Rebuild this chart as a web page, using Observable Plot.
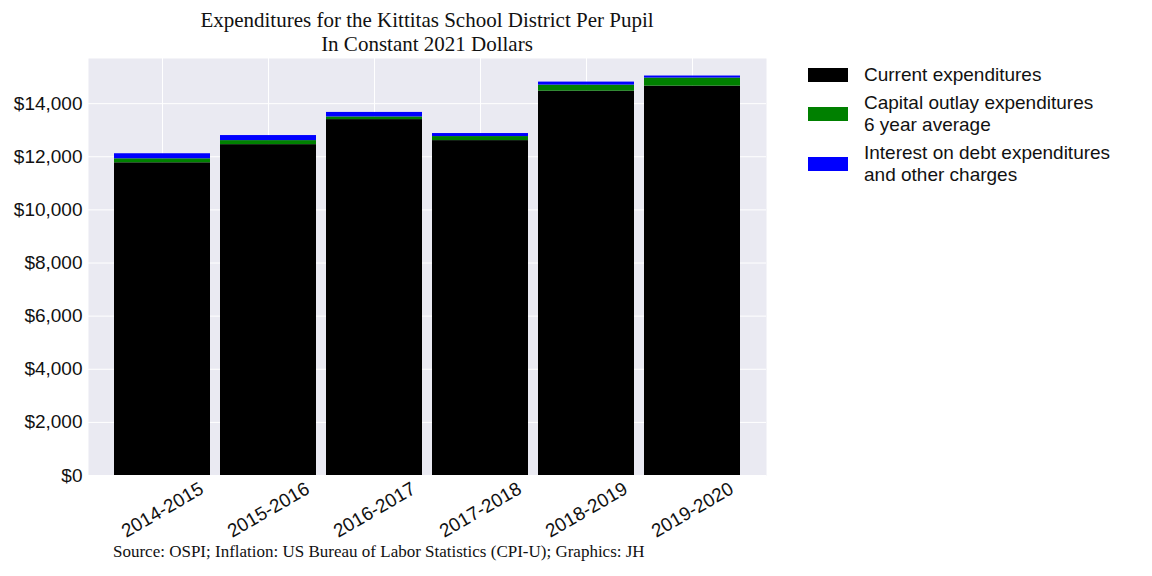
<!DOCTYPE html>
<html><head><meta charset="utf-8">
<script src="https://cdn.jsdelivr.net/npm/d3@7"></script>
<script src="https://cdn.jsdelivr.net/npm/@observablehq/plot@0.6"></script>
<style>
body{margin:0;background:#fff;}
#wrap{position:relative;width:1152px;height:576px;}
#title{position:absolute;left:88px;width:678px;top:8px;text-align:center;font:21px "Liberation Serif",serif;line-height:24px;color:#111;}
#caption{position:absolute;left:88px;width:740px;top:542px;font:17px "Liberation Serif",serif;color:#111;padding-left:25px;}
#legend{position:absolute;left:808px;top:64px;font:19px "Liberation Sans",Arial,sans-serif;color:#111;line-height:22px;}
.item{display:flex;align-items:center;margin-bottom:6px;}
.sw{width:40px;height:14px;margin-right:16px;flex:none;}
#chart{position:absolute;left:0;top:0;}
</style></head>
<body><div id="wrap"><div id="chart"></div>
<div id="title">Expenditures for the Kittitas School District Per Pupil<br>In Constant 2021 Dollars</div>
<div id="legend"></div>
<div id="caption">Source: OSPI; Inflation: US Bureau of Labor Statistics (CPI-U); Graphics: JH</div>
</div>
<script>
let years = ["2014-2015","2015-2016","2016-2017","2017-2018","2018-2019","2019-2020"]
let current = [11774, 12457, 13400, 12609, 14470, 14660]
let capital = [150, 152, 100, 152, 228, 304]
let interest = [190, 190, 170, 114, 114, 76]
let seriesNames = ["Current expenditures", "Capital outlay expenditures<br>6 year average", "Interest on debt expenditures<br>and other charges"]
let seriesColors = ["#000000", "#008000", "#0000ff"]
let yTicks = [0, 2000, 4000, 6000, 8000, 10000, 12000, 14000]

let rows = []
years.forEach((y, i) => {
    rows.push({year: y, s: 0, v: current[i]})
    rows.push({year: y, s: 1, v: capital[i]})
    rows.push({year: y, s: 2, v: interest[i]})
})

let chart = Plot.plot({
    width: 780,
    height: 545,
    marginTop: 58,
    marginLeft: 88,
    marginRight: 14,
    marginBottom: 70,
    style: {fontSize: "19px", fontFamily: "'Liberation Sans', Arial, sans-serif", color: "#111", background: "transparent"},
    x: {domain: years, paddingInner: 0.09, paddingOuter: 0.235, label: null},
    y: {domain: [0, 15700], label: null},
    color: {domain: [0, 1, 2], range: seriesColors},
    marks: [
        Plot.frame({fill: "#EAEAF2", stroke: null}),
        Plot.gridX({stroke: "#fff", strokeOpacity: 1, strokeWidth: 1}),
        Plot.gridY(yTicks, {stroke: "#fff", strokeOpacity: 1, strokeWidth: 1}),
        Plot.barY(rows, Plot.stackY({x: "year", y: "v", fill: d => seriesColors[d.s], order: "s"})),
        Plot.axisY(yTicks, {tickSize: 0, tickPadding: 6, tickFormat: d => "$" + d3.format(",")(d)}),
        Plot.axisX({tickSize: 0, tickRotate: -30, textAnchor: "middle", dy: 22, dx: 0})
    ]
})
d3.select('#chart').append(() => chart)

let leg = d3.select('#legend')
seriesNames.forEach((n, i) => {
    let it = leg.append('div').attr('class', 'item')
    it.append('div').attr('class', 'sw').style('background', seriesColors[i])
    it.append('div').html(n)
})
</script></body></html>
